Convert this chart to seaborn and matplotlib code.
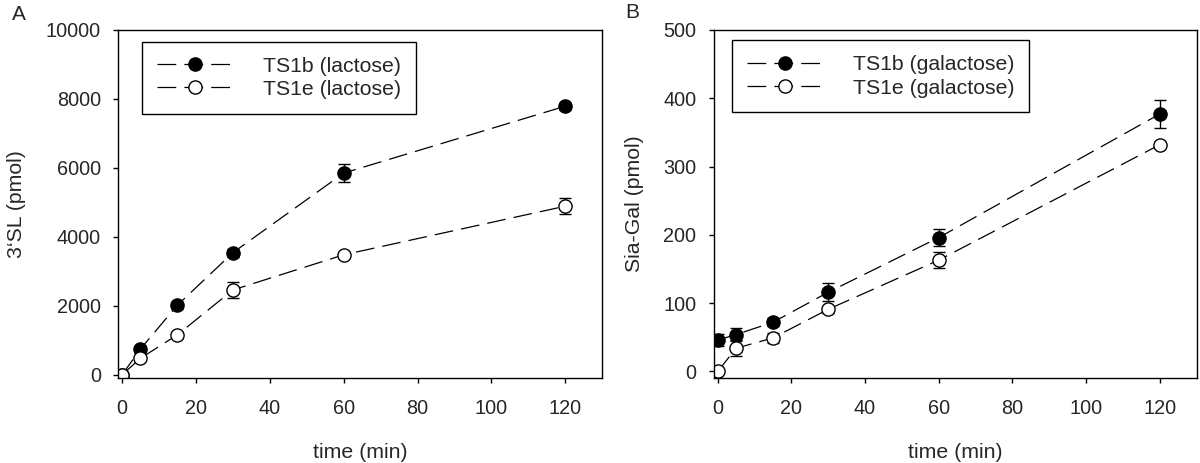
import numpy as np
import pandas as pd
import matplotlib
matplotlib.use("Agg")
import matplotlib.pyplot as plt
import seaborn as sns

# sampling times (min), shared by both panels
time = [0, 5, 15, 30, 60, 120]

# panel A: 3'SL formed with lactose as acceptor (pmol)
a_ts1b = [0, 750, 2020, 3540, 5850, 7790]
a_ts1b_err = [30, 80, 100, 120, 255, 100]
a_ts1e = [0, 480, 1160, 2460, 3480, 4890]
a_ts1e_err = [30, 60, 80, 240, 80, 230]

# panel B: Sia-Gal formed with galactose as acceptor (pmol)
b_ts1b = [46, 54, 72, 116, 196, 377]
b_ts1b_err = [9, 10, 6, 13, 12, 21]
b_ts1e = [0, 34, 49, 91, 163, 332]
b_ts1e_err = [2, 12, 8, 5, 12, 4]

sns.set_style("ticks")
plt.rcParams["font.family"] = ["Liberation Sans", "DejaVu Sans"]

fig = plt.figure(figsize=(12, 4.63), dpi=100)
ax_a = fig.add_axes([0.0986, 0.183, 0.4033, 0.7523])
ax_b = fig.add_axes([0.595, 0.183, 0.4022, 0.7523])

dash = (0, (15, 6.5))


def draw_series(ax, y, err, filled, label):
    df = pd.DataFrame({"time": time, "value": y})
    ax.errorbar(df["time"], df["value"], yerr=err, fmt="none", ecolor="black",
                elinewidth=1.0, capsize=4, capthick=1.0, zorder=1)
    sns.lineplot(data=df, x="time", y="value", ax=ax, errorbar=None,
                 color="black", linewidth=0.9, linestyle=dash,
                 marker="o", markersize=9.5,
                 markerfacecolor="black" if filled else "white",
                 markeredgecolor="black", markeredgewidth=1.0,
                 label=label, legend=False)


draw_series(ax_a, a_ts1b, a_ts1b_err, True, "TS1b (lactose)")
draw_series(ax_a, a_ts1e, a_ts1e_err, False, "TS1e (lactose)")
draw_series(ax_b, b_ts1b, b_ts1b_err, True, "TS1b (galactose)")
draw_series(ax_b, b_ts1e, b_ts1e_err, False, "TS1e (galactose)")

ax_a.set_ylim(-100, 10000)
ax_a.set_yticks(np.arange(0, 10001, 2000))
ax_a.set_ylabel("3‘SL (pmol)", fontsize=15.3, labelpad=14)

ax_b.set_ylim(-10, 500)
ax_b.set_yticks(np.arange(0, 501, 100))
ax_b.set_ylabel("Sia-Gal (pmol)", fontsize=15.3, labelpad=14)

for ax in (ax_a, ax_b):
    ax.set_xlim(-1, 130)
    ax.set_xticks(np.arange(0, 121, 20))
    ax.set_xlabel("time (min)", fontsize=15.3, labelpad=18)
    ax.tick_params(axis="x", direction="out", length=3.6, width=1,
                   pad=11, labelsize=14.3, color="black")
    ax.tick_params(axis="y", direction="out", length=3.6, width=1,
                   pad=9, labelsize=14.3, color="black")
    for sp in ax.spines.values():
        sp.set_visible(True)
        sp.set_color("black")
        sp.set_linewidth(1.0)
    leg = ax.legend(loc="upper left", fontsize=15.3, frameon=True,
                    fancybox=False, shadow=False, borderaxespad=0,
                    borderpad=0.7, handlelength=3.6, handletextpad=1.4,
                    labelspacing=0.2, numpoints=1)
    leg.get_frame().set_edgecolor("black")
    leg.get_frame().set_linewidth(1.0)
    leg.get_frame().set_alpha(1)

ax_a.get_legend().set_bbox_to_anchor((0.049, 0.966))
ax_b.get_legend().set_bbox_to_anchor((0.037, 0.97))

fig.text(19 / 1200, 1 - 14 / 463, "A", fontsize=15, ha="center", va="center")
fig.text(632 / 1200, 1 - 12 / 463, "B", fontsize=15, ha="center", va="center")

fig.savefig("out.png", dpi=100)
